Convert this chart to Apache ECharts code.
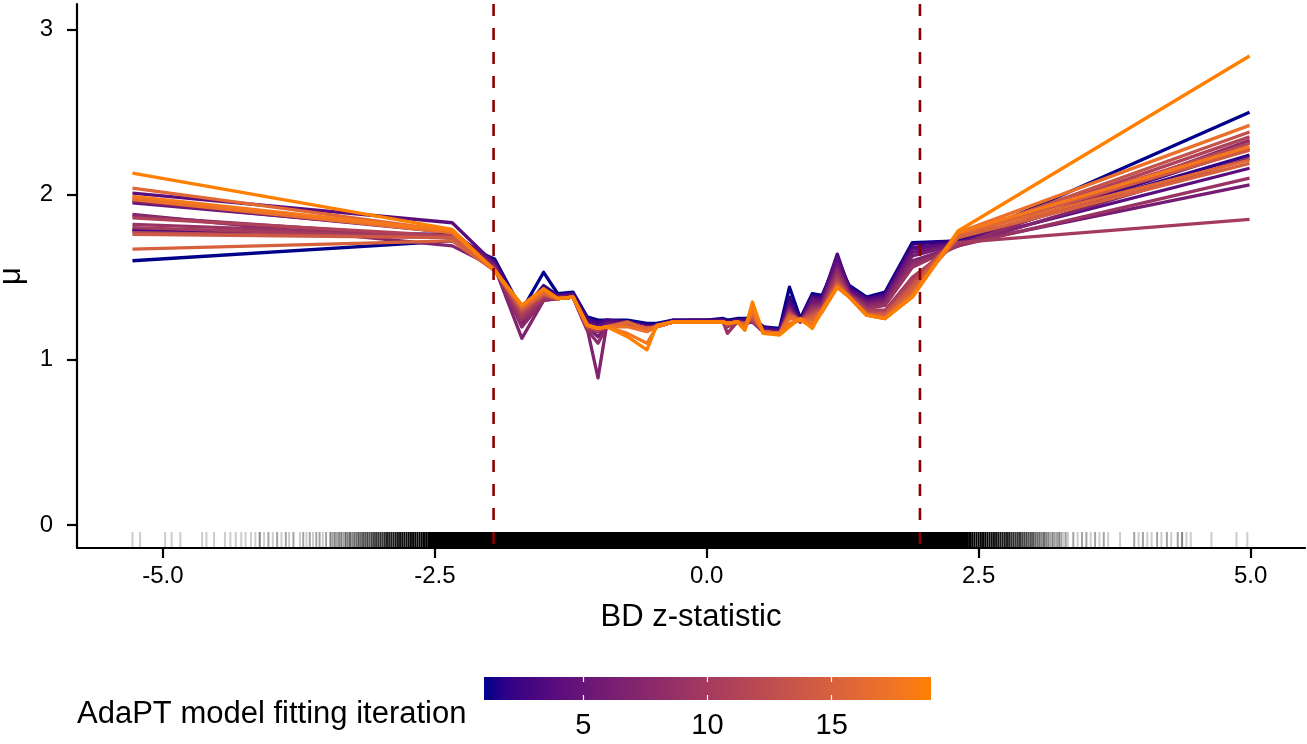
<!DOCTYPE html>
<html>
<head>
<meta charset="utf-8">
<script src="https://cdn.jsdelivr.net/npm/echarts@6/dist/echarts.min.js"></script>
<style>
  html, body { margin: 0; padding: 0; background: #fff; }
  #chart { width: 1307px; height: 744px; }
</style>
</head>
<body>
<div id="chart"></div>
<script>
// ---- data -------------------------------------------------------------
// z-statistic grid at which each fitted model is evaluated
const zGrid = [-5.28, -2.34, -1.95, -1.70, -1.50, -1.37, -1.23, -1.10, -1.00, -0.92,
  -0.73, -0.55, -0.46, -0.31, -0.15, 0.00, 0.15, 0.19, 0.28, 0.35,
  0.42, 0.52, 0.67, 0.76, 0.86, 0.97, 1.06, 1.20, 1.31, 1.47,
  1.64, 1.89, 2.31, 4.99];

// fitted mu for every AdaPT model fitting iteration
const iter01 = [1.60, 1.72, 1.61, 1.30, 1.53, 1.40, 1.41, 1.26, 1.24, 1.24, 1.24, 1.22, 1.22, 1.24, 1.24, 1.24, 1.25, 1.24, 1.25, 1.25, 1.26, 1.20, 1.19, 1.44, 1.25, 1.40, 1.39, 1.60, 1.45, 1.38, 1.41, 1.71, 1.72, 2.50];
const iter02 = [1.78, 1.76, 1.60, 1.29, 1.45, 1.39, 1.40, 1.25, 1.23, 1.24, 1.23, 1.21, 1.21, 1.24, 1.24, 1.24, 1.24, 1.23, 1.24, 1.24, 1.25, 1.20, 1.18, 1.38, 1.24, 1.39, 1.38, 1.62, 1.44, 1.37, 1.40, 1.70, 1.72, 2.24];
const iter03 = [1.79, 1.75, 1.59, 1.27, 1.42, 1.39, 1.40, 1.24, 1.22, 1.24, 1.23, 1.20, 1.21, 1.23, 1.24, 1.24, 1.24, 1.23, 1.24, 1.24, 1.25, 1.19, 1.18, 1.35, 1.24, 1.38, 1.37, 1.64, 1.43, 1.37, 1.39, 1.68, 1.71, 2.28];
const iter04 = [2.01, 1.83, 1.58, 1.25, 1.40, 1.38, 1.39, 1.23, 1.20, 1.23, 1.23, 1.20, 1.20, 1.23, 1.23, 1.23, 1.24, 1.22, 1.23, 1.23, 1.24, 1.18, 1.17, 1.33, 1.23, 1.37, 1.36, 1.62, 1.42, 1.36, 1.38, 1.67, 1.71, 2.16];
const iter05 = [1.95, 1.78, 1.57, 1.22, 1.38, 1.38, 1.39, 1.22, 1.18, 1.22, 1.22, 1.20, 1.20, 1.23, 1.23, 1.23, 1.23, 1.22, 1.23, 1.22, 1.24, 1.18, 1.17, 1.32, 1.23, 1.35, 1.35, 1.58, 1.41, 1.35, 1.37, 1.65, 1.70, 2.32];
const iter06 = [1.96, 1.77, 1.57, 1.20, 1.37, 1.38, 1.38, 1.20, 1.14, 1.21, 1.22, 1.19, 1.20, 1.23, 1.23, 1.23, 1.23, 1.21, 1.23, 1.22, 1.23, 1.17, 1.16, 1.31, 1.23, 1.34, 1.34, 1.56, 1.40, 1.34, 1.36, 1.63, 1.70, 2.06];
const iter07 = [1.88, 1.69, 1.56, 1.13, 1.36, 1.37, 1.38, 1.19, 0.89, 1.21, 1.22, 1.19, 1.20, 1.23, 1.23, 1.23, 1.23, 1.21, 1.23, 1.22, 1.23, 1.17, 1.16, 1.30, 1.23, 1.33, 1.33, 1.55, 1.40, 1.33, 1.35, 1.60, 1.69, 2.22];
const iter08 = [1.87, 1.74, 1.56, 1.20, 1.36, 1.37, 1.38, 1.18, 1.10, 1.20, 1.22, 1.19, 1.20, 1.23, 1.23, 1.23, 1.23, 1.20, 1.23, 1.22, 1.23, 1.17, 1.16, 1.30, 1.23, 1.32, 1.33, 1.53, 1.40, 1.32, 1.34, 1.58, 1.69, 2.33];
const iter09 = [1.82, 1.75, 1.55, 1.24, 1.37, 1.37, 1.38, 1.18, 1.17, 1.20, 1.22, 1.19, 1.20, 1.23, 1.23, 1.23, 1.23, 1.16, 1.23, 1.22, 1.24, 1.17, 1.16, 1.29, 1.23, 1.31, 1.32, 1.52, 1.39, 1.31, 1.33, 1.56, 1.69, 2.10];
const iter10 = [1.80, 1.74, 1.55, 1.26, 1.38, 1.37, 1.38, 1.19, 1.18, 1.20, 1.22, 1.19, 1.20, 1.23, 1.23, 1.23, 1.23, 1.21, 1.23, 1.22, 1.24, 1.17, 1.16, 1.29, 1.23, 1.30, 1.31, 1.50, 1.39, 1.30, 1.30, 1.50, 1.71, 1.85];
const iter11 = [1.86, 1.75, 1.55, 1.28, 1.39, 1.37, 1.38, 1.20, 1.18, 1.20, 1.22, 1.19, 1.20, 1.23, 1.23, 1.23, 1.23, 1.21, 1.23, 1.22, 1.25, 1.17, 1.16, 1.28, 1.23, 1.29, 1.31, 1.49, 1.39, 1.30, 1.29, 1.48, 1.74, 2.35];
const iter12 = [1.77, 1.74, 1.54, 1.29, 1.39, 1.37, 1.38, 1.20, 1.18, 1.20, 1.22, 1.19, 1.20, 1.23, 1.23, 1.23, 1.23, 1.21, 1.23, 1.22, 1.25, 1.17, 1.16, 1.28, 1.24, 1.28, 1.31, 1.48, 1.38, 1.29, 1.28, 1.46, 1.75, 2.31];
const iter13 = [1.98, 1.77, 1.54, 1.30, 1.40, 1.37, 1.38, 1.21, 1.19, 1.20, 1.22, 1.19, 1.20, 1.23, 1.23, 1.23, 1.23, 1.22, 1.23, 1.21, 1.26, 1.17, 1.16, 1.27, 1.24, 1.27, 1.30, 1.47, 1.38, 1.28, 1.28, 1.45, 1.75, 2.38];
const iter14 = [1.76, 1.74, 1.54, 1.31, 1.40, 1.37, 1.38, 1.21, 1.19, 1.20, 1.22, 1.19, 1.20, 1.23, 1.23, 1.23, 1.23, 1.22, 1.23, 1.21, 1.27, 1.17, 1.16, 1.27, 1.24, 1.26, 1.30, 1.46, 1.38, 1.28, 1.27, 1.44, 1.76, 2.27];
const iter15 = [1.67, 1.72, 1.54, 1.31, 1.40, 1.37, 1.38, 1.21, 1.19, 1.20, 1.22, 1.19, 1.20, 1.23, 1.23, 1.23, 1.23, 1.22, 1.23, 1.21, 1.28, 1.17, 1.16, 1.27, 1.24, 1.25, 1.30, 1.45, 1.38, 1.27, 1.26, 1.42, 1.74, 2.19];
const iter16 = [2.04, 1.78, 1.54, 1.32, 1.41, 1.37, 1.38, 1.21, 1.19, 1.20, 1.23, 1.18, 1.20, 1.23, 1.23, 1.23, 1.23, 1.22, 1.23, 1.20, 1.29, 1.16, 1.16, 1.26, 1.24, 1.24, 1.30, 1.45, 1.38, 1.27, 1.26, 1.40, 1.76, 2.21];
const iter17 = [1.97, 1.77, 1.54, 1.33, 1.42, 1.37, 1.38, 1.21, 1.19, 1.20, 1.20, 1.17, 1.20, 1.23, 1.23, 1.23, 1.23, 1.22, 1.23, 1.19, 1.31, 1.16, 1.16, 1.25, 1.24, 1.22, 1.29, 1.44, 1.38, 1.27, 1.25, 1.39, 1.77, 2.42];
const iter18 = [1.99, 1.78, 1.54, 1.33, 1.43, 1.37, 1.38, 1.21, 1.19, 1.20, 1.16, 1.10, 1.20, 1.23, 1.23, 1.23, 1.23, 1.22, 1.23, 1.18, 1.33, 1.16, 1.16, 1.22, 1.24, 1.20, 1.29, 1.44, 1.38, 1.27, 1.25, 1.38, 1.77, 2.29];
const iter19 = [2.13, 1.79, 1.54, 1.33, 1.43, 1.37, 1.38, 1.21, 1.19, 1.20, 1.14, 1.06, 1.21, 1.23, 1.23, 1.23, 1.23, 1.22, 1.23, 1.18, 1.35, 1.16, 1.15, 1.20, 1.25, 1.19, 1.30, 1.44, 1.38, 1.27, 1.25, 1.38, 1.78, 2.84];

const iterations = [1, 2, 3, 4, 5, 6, 7, 8, 9, 10, 11, 12, 13, 14, 15, 16, 17, 18, 19];
const fits = [iter01, iter02, iter03, iter04, iter05, iter06, iter07, iter08, iter09, iter10,
  iter11, iter12, iter13, iter14, iter15, iter16, iter17, iter18, iter19];

// rug of observed z-statistics: [z, number of overlapping observations]
const rugLeftTail = [
  [-5.28, 1], [-5.21, 1], [-4.98, 1], [-4.92, 1], [-4.84, 1], [-4.64, 1], [-4.60, 1], [-4.53, 1],
  [-4.43, 1], [-4.38, 1], [-4.33, 1], [-4.28, 1], [-4.24, 1], [-4.19, 1], [-4.15, 1], [-4.11, 3],
  [-4.07, 1], [-4.03, 2], [-3.99, 1], [-3.95, 2], [-3.91, 1], [-3.87, 2], [-3.84, 1], [-3.80, 2],
  [-3.74, 1], [-3.71, 2], [-3.68, 1], [-3.65, 2], [-3.62, 1], [-3.59, 2], [-3.56, 2], [-3.53, 1],
  [-3.50, 2], [-3.46, 3], [-3.44, 2], [-3.42, 3], [-3.40, 2], [-3.38, 3], [-3.36, 3], [-3.34, 2],
  [-3.32, 4], [-3.30, 3], [-3.28, 4], [-3.26, 3], [-3.24, 4], [-3.22, 4], [-3.20, 5], [-3.18, 4],
  [-3.16, 5], [-3.14, 5], [-3.12, 6], [-3.10, 5], [-3.08, 6], [-3.06, 6], [-3.04, 7], [-3.02, 7],
  [-3.00, 8], [-2.98, 7], [-2.96, 8], [-2.94, 9], [-2.92, 9], [-2.90, 10], [-2.88, 10], [-2.86, 11],
  [-2.84, 12], [-2.82, 12], [-2.80, 13], [-2.78, 14], [-2.76, 14], [-2.74, 15], [-2.72, 16], [-2.70, 17],
  [-2.68, 18], [-2.66, 19], [-2.64, 20], [-2.62, 21], [-2.60, 22], [-2.58, 24]
];
const rugRightTail = [
  [2.42, 24], [2.44, 22], [2.46, 21], [2.48, 20], [2.50, 19], [2.52, 18], [2.54, 17], [2.56, 16],
  [2.58, 15], [2.60, 14], [2.62, 14], [2.64, 13], [2.66, 12], [2.68, 12], [2.70, 11], [2.72, 10],
  [2.74, 10], [2.76, 9], [2.78, 9], [2.80, 8], [2.82, 8], [2.84, 7], [2.86, 7], [2.88, 7],
  [2.90, 6], [2.92, 6], [2.94, 6], [2.96, 5], [2.98, 5], [3.00, 5], [3.02, 4], [3.04, 4],
  [3.06, 4], [3.08, 3], [3.10, 4], [3.12, 3], [3.14, 3], [3.16, 2], [3.18, 3], [3.20, 2],
  [3.22, 2], [3.24, 3], [3.26, 2], [3.28, 1], [3.30, 2], [3.32, 1],
  [3.37, 2], [3.41, 1], [3.45, 2], [3.49, 2], [3.53, 1], [3.57, 2], [3.61, 1], [3.65, 2], [3.69, 1],
  [3.80, 1],
  [3.93, 2], [3.97, 1], [4.01, 2], [4.05, 1], [4.09, 1], [4.14, 2], [4.18, 1], [4.23, 2],
  [4.27, 1], [4.33, 2], [4.37, 3], [4.41, 1], [4.45, 1],
  [4.64, 1], [4.87, 1], [4.97, 1]
];
// central range where the rug is fully saturated
const rugSaturated = [-2.57, 2.41];

// significance thresholds
const thresholds = [-1.96, 1.96];

// tick labels
const xTicks = [-5, -2.5, 0, 2.5, 5];
const yTicks = [0, 1, 2, 3];
const iterTicks = [5, 10, 15];

// ---- colour scale: linear gradient in CIELAB ---------------------------
const LOW = '#00008B', HIGH = '#FF8000';
function hexToRgb(h) { return [1, 3, 5].map(i => parseInt(h.slice(i, i + 2), 16)); }
function toLin(c) { c /= 255; return c <= 0.04045 ? c / 12.92 : Math.pow((c + 0.055) / 1.055, 2.4); }
function fromLin(c) { const v = c <= 0.0031308 ? 12.92 * c : 1.055 * Math.pow(c, 1 / 2.4) - 0.055; return Math.max(0, Math.min(255, Math.round(v * 255))); }
const WX = 0.95047, WY = 1.0, WZ = 1.08883;
function rgbToLab(rgb) {
  const [r, g, b] = rgb.map(toLin);
  const X = (0.4124564 * r + 0.3575761 * g + 0.1804375 * b) / WX;
  const Y = (0.2126729 * r + 0.7151522 * g + 0.0721750 * b) / WY;
  const Z = (0.0193339 * r + 0.1191920 * g + 0.9503041 * b) / WZ;
  const f = t => t > 0.008856 ? Math.cbrt(t) : 7.787 * t + 16 / 116;
  const fx = f(X), fy = f(Y), fz = f(Z);
  return [116 * fy - 16, 500 * (fx - fy), 200 * (fy - fz)];
}
function labToHex(lab) {
  const fy = (lab[0] + 16) / 116, fx = fy + lab[1] / 500, fz = fy - lab[2] / 200;
  const fi = t => t > 0.206893 ? t * t * t : (t - 16 / 116) / 7.787;
  const X = fi(fx) * WX, Y = fi(fy) * WY, Z = fi(fz) * WZ;
  const r = 3.2404542 * X - 1.5371385 * Y - 0.4985314 * Z;
  const g = -0.9692660 * X + 1.8760108 * Y + 0.0415560 * Z;
  const b = 0.0556434 * X - 0.2040259 * Y + 1.0572252 * Z;
  return '#' + [r, g, b].map(fromLin).map(v => v.toString(16).padStart(2, '0')).join('');
}
const labLow = rgbToLab(hexToRgb(LOW)), labHigh = rgbToLab(hexToRgb(HIGH));
const iterMin = iterations[0], iterMax = iterations[iterations.length - 1];
function colourAt(t) { return labToHex(labLow.map((v, i) => v + (labHigh[i] - v) * t)); }
function iterColour(it) { return colourAt((it - iterMin) / (iterMax - iterMin)); }

// ---- chart ------------------------------------------------------------
const FONT = '"Liberation Sans", Arial, Helvetica, sans-serif';
const X_MIN = -5.79, X_MAX = 5.5, Y_MIN = -0.14, Y_MAX = 3.155;
const RUG_LEN = 16;

const chart = echarts.init(document.getElementById('chart'), null, { renderer: 'canvas' });

const lineSeries = fits.map((vals, i) => ({
  type: 'line',
  name: 'iteration ' + iterations[i],
  xAxisIndex: 0, yAxisIndex: 0,
  data: zGrid.map((z, k) => [z, vals[k]]),
  symbol: 'none',
  lineStyle: { width: 3.3, color: iterColour(iterations[i]), join: 'round' },
  itemStyle: { color: iterColour(iterations[i]) },
  silent: true,
  z: 3
}));

const rugSeries = {
  type: 'custom',
  xAxisIndex: 0, yAxisIndex: 0,
  data: rugLeftTail.concat(rugRightTail),
  silent: true,
  z: 2,
  renderItem: function (params, api) {
    const p = api.coord([api.value(0), Y_MIN]);
    const n = api.value(1);
    const a = 1 - Math.pow(1 - 0.2, n);
    return {
      type: 'line',
      shape: { x1: p[0], y1: p[1], x2: p[0], y2: p[1] - RUG_LEN },
      style: { stroke: 'rgba(0,0,0,' + a.toFixed(3) + ')', lineWidth: 2 }
    };
  }
};

const rugBandSeries = {
  type: 'custom',
  xAxisIndex: 0, yAxisIndex: 0,
  data: [rugSaturated],
  silent: true,
  z: 2,
  renderItem: function (params, api) {
    const a = api.coord([api.value(0), Y_MIN]);
    const b = api.coord([api.value(1), Y_MIN]);
    return {
      type: 'rect',
      shape: { x: a[0], y: a[1] - RUG_LEN, width: b[0] - a[0], height: RUG_LEN },
      style: { fill: '#000' }
    };
  }
};

const thresholdSeries = {
  type: 'custom',
  xAxisIndex: 0, yAxisIndex: 0,
  data: thresholds.map(v => [v]),
  silent: true,
  z: 5,
  renderItem: function (params, api) {
    const a = api.coord([api.value(0), Y_MAX]);
    const b = api.coord([api.value(0), Y_MIN]);
    return {
      type: 'line',
      shape: { x1: a[0], y1: a[1], x2: b[0], y2: b[1] },
      style: { stroke: '#8B0000', lineWidth: 2.6, lineDash: [12, 12] }
    };
  }
};

// colour bar: one rectangle spanning the iteration range, filled with the Lab ramp
const barStops = [];
for (let k = 0; k <= 20; k++) barStops.push({ offset: k / 20, color: colourAt(k / 20) });
const colourBarSeries = {
  type: 'custom',
  xAxisIndex: 1, yAxisIndex: 1,
  data: [[iterMin, iterMax]],
  silent: true,
  renderItem: function (params, api) {
    const a = api.coord([api.value(0), 1]);
    const b = api.coord([api.value(1), 0]);
    return {
      type: 'rect',
      shape: { x: a[0], y: a[1], width: b[0] - a[0], height: b[1] - a[1] },
      style: { fill: new echarts.graphic.LinearGradient(0, 0, 1, 0, barStops) }
    };
  }
};

const axisText = { color: '#000', fontFamily: FONT, fontSize: 24 };

const option = {
  animation: false,
  backgroundColor: '#fff',
  grid: [
    { left: 77, right: 2, top: 4, bottom: 196, outerBoundsMode: 'none', containLabel: false },
    { left: 484, top: 677, width: 447, height: 23, outerBoundsMode: 'none', containLabel: false }
  ],
  xAxis: [
    {
      gridIndex: 0, type: 'value', min: X_MIN, max: X_MAX,
      name: 'BD z-statistic', nameLocation: 'middle', nameGap: 54,
      nameTextStyle: { color: '#000', fontFamily: FONT, fontSize: 31 },
      axisLine: { onZero: false, lineStyle: { color: '#000', width: 2.2 } },
      axisTick: { length: 10, lineStyle: { color: '#000', width: 2.2 }, customValues: xTicks },
      axisLabel: Object.assign({ margin: 16, customValues: xTicks, formatter: v => v.toFixed(1) }, axisText),
      splitLine: { show: false }
    },
    {
      gridIndex: 1, type: 'value', min: iterMin, max: iterMax, position: 'bottom', z: 10,
      axisLine: { show: false },
      axisTick: { inside: true, length: 5, lineStyle: { color: '#fff', width: 1.2 }, customValues: iterTicks },
      axisLabel: Object.assign({ margin: 11, customValues: iterTicks }, axisText, { fontSize: 29 }),
      splitLine: { show: false }
    },
    {
      gridIndex: 1, type: 'value', min: iterMin, max: iterMax, position: 'top', z: 10,
      axisLine: { show: false },
      axisTick: { inside: true, length: 5, lineStyle: { color: '#fff', width: 1.2 }, customValues: iterTicks },
      axisLabel: { show: false },
      splitLine: { show: false }
    }
  ],
  yAxis: [
    {
      gridIndex: 0, type: 'value', min: Y_MIN, max: Y_MAX,
      name: 'μ', nameLocation: 'middle', nameGap: 50, nameRotate: 90,
      nameTextStyle: { color: '#000', fontFamily: FONT, fontSize: 31 },
      axisLine: { onZero: false, lineStyle: { color: '#000', width: 2.2 } },
      axisTick: { length: 10, lineStyle: { color: '#000', width: 2.2 }, customValues: yTicks },
      axisLabel: Object.assign({ margin: 24, customValues: yTicks, formatter: v => String(v) }, axisText),
      splitLine: { show: false }
    },
    { gridIndex: 1, type: 'value', min: 0, max: 1, show: false }
  ],
  graphic: [
    {
      type: 'text', x: 77, y: 714, silent: true,
      style: { text: 'AdaPT model fitting iteration', fill: '#000', font: '31px ' + FONT, verticalAlign: 'middle', align: 'left' }
    }
  ],
  series: [rugSeries, rugBandSeries].concat(lineSeries, [thresholdSeries, colourBarSeries])
};

chart.setOption(option);
</script>
</body>
</html>
